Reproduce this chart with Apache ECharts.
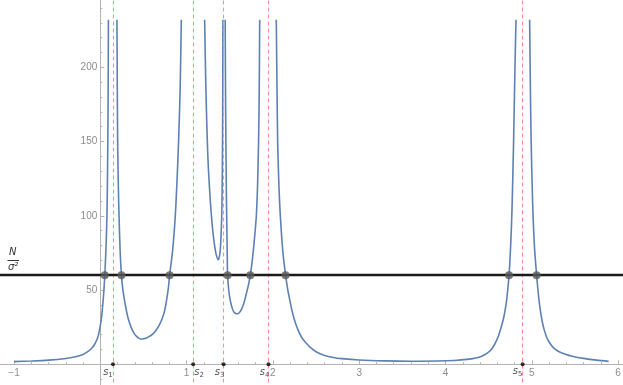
<!DOCTYPE html>
<html>
<head>
<meta charset="utf-8">
<script src="https://cdn.jsdelivr.net/npm/echarts@6/dist/echarts.min.js"></script>
<style>html,body{margin:0;padding:0;background:#fff}#c{width:623px;height:385px}</style>
</head>
<body>
<div id="c"></div>
<script>
// ---- data ----
const branchA = [[-1.0,1.8],[-0.8,2.2],[-0.6,2.8],[-0.4,3.9],[-0.3,4.9],[-0.2,6.6],[-0.15,8.3],[-0.1,10.8],[-0.07,13],[-0.04,16.5],[-0.02,20],[0.0,26],[0.015,32],[0.03,41],[0.042,50],[0.052,60],[0.06,70],[0.068,82],[0.077,100],[0.082,120],[0.087,150],[0.091,185],[0.094,232]];
const branchB = [[0.193,232],[0.197,185],[0.201,150],[0.209,120],[0.217,100],[0.23,76],[0.245,60],[0.26,51],[0.275,45],[0.29,40],[0.31,34],[0.33,29.5],[0.36,24.5],[0.39,21],[0.42,18.8],[0.455,17.3],[0.49,17],[0.52,17.3],[0.56,18.5],[0.6,20],[0.64,22.5],[0.68,26],[0.715,30.5],[0.745,36],[0.77,44],[0.79,52],[0.803,60],[0.825,70],[0.845,81],[0.869,100],[0.89,125],[0.907,150],[0.925,185],[0.939,232]];
const branchC = [[1.209,232],[1.222,190],[1.235,160],[1.25,135],[1.275,110],[1.295,95],[1.313,85],[1.335,76],[1.352,72],[1.365,70.5],[1.378,72],[1.39,77],[1.4,88],[1.408,102],[1.414,130],[1.418,170],[1.421,232]];
const branchD = [[1.447,232],[1.452,175],[1.457,140],[1.462,110],[1.467,90],[1.471,74],[1.475,60],[1.49,49],[1.506,43],[1.525,38.5],[1.545,35.5],[1.57,34.2],[1.59,34],[1.615,35],[1.64,37.5],[1.665,41.5],[1.69,47],[1.715,53],[1.738,60],[1.765,72],[1.79,87],[1.808,100],[1.822,120],[1.834,150],[1.841,180],[1.847,232]];
const branchE = [[2.039,232],[2.047,190],[2.055,150],[2.07,120],[2.086,100],[2.115,76],[2.147,60],[2.17,51],[2.2,42],[2.23,34],[2.26,28],[2.3,22],[2.34,17.5],[2.39,14],[2.43,11.5],[2.5,8.5],[2.6,6],[2.7,4.6],[2.8,3.8],[3.0,2.9],[3.3,2.3],[3.6,2.1],[3.9,2.2],[4.1,2.6],[4.25,3.3],[4.35,4.3],[4.42,5.5],[4.48,7.3],[4.53,10],[4.57,13.5],[4.61,18.5],[4.645,25],[4.673,31],[4.695,38],[4.712,45],[4.736,60],[4.755,80],[4.771,105],[4.789,150],[4.805,200],[4.817,232]];
const branchF = [[4.975,232],[4.983,190],[4.991,155],[5.009,110],[5.03,80],[5.056,60],[5.08,45],[5.1,36],[5.12,29],[5.14,24],[5.17,18.5],[5.2,15],[5.25,11.2],[5.3,9],[5.38,7],[5.48,5.3],[5.6,4],[5.75,2.8],[5.89,2.0]];
const branches = [branchA, branchB, branchC, branchD, branchE, branchF];

const level = 60;                                   // N / sigma^2
const crossingsX = [0.052, 0.245, 0.803, 1.475, 1.738, 2.147, 4.736, 5.056];
const sValues = [0.147, 1.076, 1.429, 1.949, 4.894];
const sNames = ['1', '2', '3', '4', '5'];
const xTickLabels = [-1, 1, 2, 3, 4, 5, 6];
const yTickLabels = [50, 100, 150, 200];

// label placement (style only)
const sLabelOffsets = [[-5, 8], [6, 8], [-4, 8], [-4, 8], [-5, 7]];

const chart = echarts.init(document.getElementById('c'), null, {renderer: 'canvas'});

const curveColor = '#5e81b5';
const axisGray = '#b3b3b3';
const labelGray = '#6f6f6f';
const tickFont = {color: labelGray, fontSize: 10, fontFamily: 'Liberation Sans'};

const series = branches.map(b => ({
  type: 'line', data: b, showSymbol: false, smooth: 0.3,
  lineStyle: {color: curveColor, width: 1.6}, z: 3, silent: true
}));

series.push({
  type: 'line', data: [], silent: true,
  markLine: {
    symbol: 'none', silent: true, label: {show: false},
    lineStyle: {color: '#ff8f8f', type: [4, 3], width: 1.1},
    data: sValues.map(v => ({xAxis: v}))
  }, z: 2
});
series.push({
  type: 'line', data: [], silent: true,
  markLine: {
    symbol: 'none', silent: true, label: {show: false},
    lineStyle: {color: '#1a1a1a', type: 'solid', width: 2.4},
    data: [{yAxis: level}]
  }, z: 4
});
series.push({
  type: 'scatter', silent: true, symbolSize: 8,
  itemStyle: {color: '#5a5a5a'},
  data: crossingsX.map(x => [x, level]), z: 5
});
series.push({
  type: 'scatter', silent: true, symbolSize: 4,
  itemStyle: {color: '#000'},
  data: sValues.map((x, i) => ({
    value: [x, 0],
    label: {
      show: true, position: 'inside', offset: sLabelOffsets[i],
      formatter: '{s|s}{n|' + sNames[i] + '}',
      rich: {
        s: {fontFamily: 'DejaVu Sans', fontStyle: 'italic', fontSize: 10, color: '#222'},
        n: {fontFamily: 'DejaVu Sans', fontSize: 7, color: '#222', verticalAlign: 'bottom', padding: [5, 0, 0, 0]}
      }
    }
  })), z: 6
});
// tick labels placed at the axes crossing the origin
series.push({
  type: 'scatter', silent: true, symbolSize: 0,
  data: xTickLabels.map(v => [v, 0]),
  label: Object.assign({show: true, position: 'bottom', distance: 4,
    formatter: p => (p.value[0] < 0 ? '\u2212' + Math.abs(p.value[0]) : String(p.value[0]))}, tickFont),
  z: 1
});
series.push({
  type: 'scatter', silent: true, symbolSize: 0,
  data: yTickLabels.map(v => [0, v]),
  label: Object.assign({show: true, position: 'left', distance: 3,
    formatter: p => String(p.value[1])}, tickFont),
  z: 1
});

chart.setOption({
  animation: false,
  backgroundColor: '#fff',
  grid: {left: -72.3, right: -81.4, top: -6.95, bottom: -53.55, containLabel: false, outerBoundsMode: 'none'},
  xAxis: {
    type: 'value', min: -2, max: 7, interval: 1,
    axisLine: {onZero: true, lineStyle: {color: axisGray, width: 1}},
    axisTick: {show: true, inside: true, length: 4, lineStyle: {color: axisGray}},
    minorTick: {show: true, splitNumber: 5, length: 2, lineStyle: {color: axisGray}},
    splitLine: {show: false},
    axisLabel: {show: false}
  },
  yAxis: {
    type: 'value', min: -50, max: 250, interval: 50,
    axisLine: {onZero: true, lineStyle: {color: axisGray, width: 1}},
    axisTick: {show: true, inside: true, length: 4, lineStyle: {color: axisGray}},
    minorTick: {show: true, splitNumber: 5, length: 2, lineStyle: {color: axisGray}},
    splitLine: {show: false},
    axisLabel: {show: false}
  },
  graphic: [
    {type: 'text', left: 9, top: 247, style: {text: 'N', font: 'italic 10px "DejaVu Sans"', fill: '#333'}},
    {type: 'line', shape: {x1: 7.5, y1: 260.5, x2: 19, y2: 260.5}, style: {stroke: '#333', lineWidth: 1}},
    {type: 'text', left: 8, top: 262, style: {text: 'σ²', font: 'italic 10px "DejaVu Sans"', fill: '#333'}}
  ],
  series: series
});
</script>
</body>
</html>
